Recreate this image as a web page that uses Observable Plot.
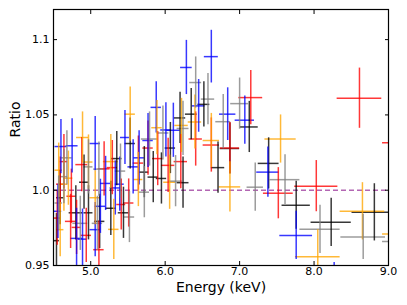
<!DOCTYPE html>
<html><head><meta charset="utf-8">
<script src="https://cdn.jsdelivr.net/npm/d3@7"></script>
<script src="https://cdn.jsdelivr.net/npm/@observablehq/plot@0.6"></script>
<style>
html,body{margin:0;padding:0;background:#fff;}
</style></head><body><div id="chart"></div>
<script>
const seriesNames = ["black", "red", "blue", "orange", "gray"];
const seriesColors = ["#000000", "#ff0000", "#0000ff", "#ffa500", "#808080"];

// [energy (keV), ratio, energy half-width, ratio error]
const black = [
  [4.54, 0.9665, 0.04, 0.018], [4.59, 0.995, 0.05, 0.018], [4.80, 0.985, 0.09, 0.018],
  [4.91, 1.0053, 0.06, 0.018], [4.97, 0.985, 0.06, 0.018], [5.12, 0.9793, 0.07, 0.018],
  [5.27, 0.988, 0.07, 0.018], [5.35, 1.021, 0.07, 0.018], [5.44, 0.985, 0.07, 0.017],
  [5.53, 1.031, 0.07, 0.017], [5.72, 1.012, 0.06, 0.017], [5.84, 1.0087, 0.07, 0.017],
  [5.95, 1.0078, 0.07, 0.017], [6.07, 1.028, 0.07, 0.017], [6.20, 1.048, 0.076, 0.017],
  [6.24, 1.005, 0.08, 0.017], [6.35, 1.0505, 0.078, 0.017], [6.52, 1.057, 0.08, 0.015],
  [6.71, 1.015, 0.09, 0.017], [6.87, 1.0277, 0.13, 0.017], [7.13, 1.042, 0.12, 0.017],
  [7.39, 1.0178, 0.14, 0.017], [7.76, 0.990, 0.19, 0.016], [8.23, 0.9787, 0.27, 0.016],
  [8.81, 0.9853, 0.30, 0.019]
];
const red = [
  [4.55, 0.9815, 0.04, 0.018], [4.59, 1.004, 0.05, 0.018], [4.64, 1.019, 0.05, 0.018],
  [4.73, 0.9793, 0.07, 0.018], [4.74, 0.996, 0.06, 0.018], [4.81, 0.9753, 0.06, 0.018],
  [4.88, 1.017, 0.08, 0.018], [4.94, 0.970, 0.07, 0.018], [5.11, 0.9605, 0.07, 0.019],
  [5.18, 1.0142, 0.08, 0.018], [5.29, 1.015, 0.07, 0.018], [5.41, 0.9905, 0.06, 0.017],
  [5.51, 0.9915, 0.07, 0.016], [5.64, 1.018, 0.07, 0.018], [5.77, 1.028, 0.07, 0.018],
  [5.90, 1.021, 0.07, 0.018], [6.04, 1.0165, 0.09, 0.018], [6.21, 1.019, 0.09, 0.018],
  [6.41, 1.034, 0.09, 0.018], [6.62, 1.030, 0.11, 0.018], [6.87, 1.028, 0.13, 0.017],
  [7.15, 1.0615, 0.16, 0.018], [7.52, 0.998, 0.20, 0.017], [8.03, 1.0027, 0.29, 0.017],
  [8.61, 1.0611, 0.30, 0.020], [9.22, 1.0315, 0.30, 0.020]
];
const blue = [
  [4.56, 0.986, 0.05, 0.018], [4.60, 1.029, 0.08, 0.018], [4.75, 1.0295, 0.08, 0.018],
  [4.81, 0.968, 0.08, 0.020], [4.89, 0.9675, 0.06, 0.020], [5.06, 1.031, 0.07, 0.018],
  [5.06, 0.9738, 0.07, 0.018], [5.13, 0.9893, 0.07, 0.018], [5.20, 1.0045, 0.07, 0.018],
  [5.33, 1.0015, 0.07, 0.018], [5.39, 1.004, 0.06, 0.018], [5.46, 1.035, 0.06, 0.018],
  [5.57, 1.0155, 0.07, 0.018], [5.65, 1.0215, 0.07, 0.018], [5.77, 1.033, 0.07, 0.018],
  [5.88, 1.055, 0.07, 0.017], [6.01, 1.040, 0.07, 0.018], [6.11, 1.0398, 0.09, 0.018],
  [6.285, 1.0815, 0.078, 0.018], [6.45, 1.056, 0.085, 0.0175], [6.62, 1.0887, 0.094, 0.0175],
  [6.84, 1.0505, 0.11, 0.0175], [7.07, 1.0465, 0.13, 0.016], [7.38, 1.012, 0.15, 0.0167],
  [7.76, 0.970, 0.22, 0.016], [8.27, 0.940, 0.25, 0.012]
];
const orange = [
  [4.57, 1.0133, 0.05, 0.018], [4.59, 0.9738, 0.05, 0.018], [4.64, 1.004, 0.05, 0.018],
  [4.70, 1.008, 0.06, 0.018], [4.89, 1.035, 0.08, 0.017], [4.97, 1.0187, 0.06, 0.018],
  [5.06, 0.995, 0.07, 0.018], [5.27, 1.019, 0.10, 0.018], [5.31, 0.974, 0.07, 0.020],
  [5.53, 1.0505, 0.07, 0.018], [5.64, 1.0071, 0.06, 0.018], [5.89, 1.0415, 0.07, 0.018],
  [6.06, 1.0053, 0.08, 0.018], [6.22, 1.043, 0.09, 0.018], [6.40, 1.0453, 0.09, 0.018],
  [6.62, 1.033, 0.11, 0.018], [6.87, 1.0022, 0.145, 0.0167], [7.55, 1.034, 0.21, 0.016],
  [8.05, 0.9558, 0.30, 0.018], [8.65, 0.986, 0.30, 0.019], [9.22, 0.971, 0.30, 0.020]
];
const gray = [
  [4.57, 0.9915, 0.05, 0.018], [4.64, 1.009, 0.05, 0.018], [4.68, 1.0215, 0.07, 0.018],
  [4.86, 0.978, 0.10, 0.018], [4.97, 1.0155, 0.06, 0.018], [5.09, 0.978, 0.07, 0.018],
  [5.11, 1.014, 0.07, 0.018], [5.40, 1.0127, 0.07, 0.018], [5.52, 0.9822, 0.07, 0.017],
  [5.72, 0.9987, 0.07, 0.017], [5.79, 1.034, 0.11, 0.018], [5.97, 1.038, 0.08, 0.018],
  [6.14, 1.006, 0.09, 0.017], [6.24, 1.041, 0.08, 0.018], [6.41, 1.0715, 0.08, 0.017],
  [6.575, 1.0605, 0.09, 0.017], [6.78, 1.0455, 0.10, 0.018], [7.00, 1.0575, 0.12, 0.017],
  [7.21, 1.002, 0.11, 0.016], [7.61, 1.007, 0.20, 0.0165], [8.08, 0.974, 0.27, 0.016],
  [8.66, 0.969, 0.30, 0.015], [9.22, 0.966, 0.30, 0.020]
];

const xTicks = [5, 6, 7, 8, 9];
const xTickLabels = ["5.0", "6.0", "7.0", "8.0", "9.0"];
const yTicks = [0.95, 1.0, 1.05, 1.1];
const yTickLabels = ["0.95", "1.0", "1.05", "1.1"];
const referenceRatio = [1.0];
const xLabel = "Energy (keV)";
const yLabel = "Ratio";

const rows = [];
[black, red, blue, orange, gray].forEach((arr, i) =>
  arr.forEach(([x, y, xe, ye]) => rows.push({series: seriesNames[i], x, y, xe, ye})));

const common = {stroke: "series", strokeWidth: 1.5, strokeOpacity: 0.78, clip: true};

const chart = Plot.plot({
  width: 407,
  height: 305,
  marginLeft: 53,
  marginRight: 19,
  marginTop: 9,
  marginBottom: 40,
  x: {domain: [4.5, 9.0]},
  y: {domain: [0.95, 1.12]},
  color: {domain: seriesNames, range: seriesColors},
  style: {fontFamily: "DejaVu Sans", fontSize: "11px", color: "#000", background: "#fff", overflow: "visible"},
  marks: [
    Plot.ruleY(referenceRatio, {stroke: "purple", strokeOpacity: 0.6, strokeWidth: 1.6, strokeDasharray: "5,3"}),
    Plot.ruleY(rows, {y: "y", x1: d => d.x - d.xe, x2: d => d.x + d.xe, ...common}),
    Plot.ruleX(rows, {x: "x", y1: d => d.y - d.ye, y2: d => d.y + d.ye, ...common}),
    Plot.frame({stroke: "#000", strokeWidth: 1.2}),
    Plot.axisX({anchor: "bottom", ticks: xTicks, tickFormat: d => xTickLabels[xTicks.indexOf(d)], tickSize: -4, tickPadding: 6, label: null}),
    Plot.axisX({anchor: "top", ticks: xTicks, tickFormat: () => "", tickSize: -4, label: null}),
    Plot.axisY({anchor: "left", ticks: yTicks, tickFormat: d => yTickLabels[yTicks.indexOf(d)], tickSize: -4, tickPadding: 8, label: null}),
    Plot.axisY({anchor: "right", ticks: yTicks, tickFormat: () => "", tickSize: -4, label: null}),
    Plot.text([xLabel], {frameAnchor: "bottom", dy: 26, fontSize: 14}),
    Plot.text([yLabel], {frameAnchor: "left", dx: -38, rotate: -90, fontSize: 14})
  ]
});
document.getElementById("chart").appendChild(chart);
</script>
</body></html>
